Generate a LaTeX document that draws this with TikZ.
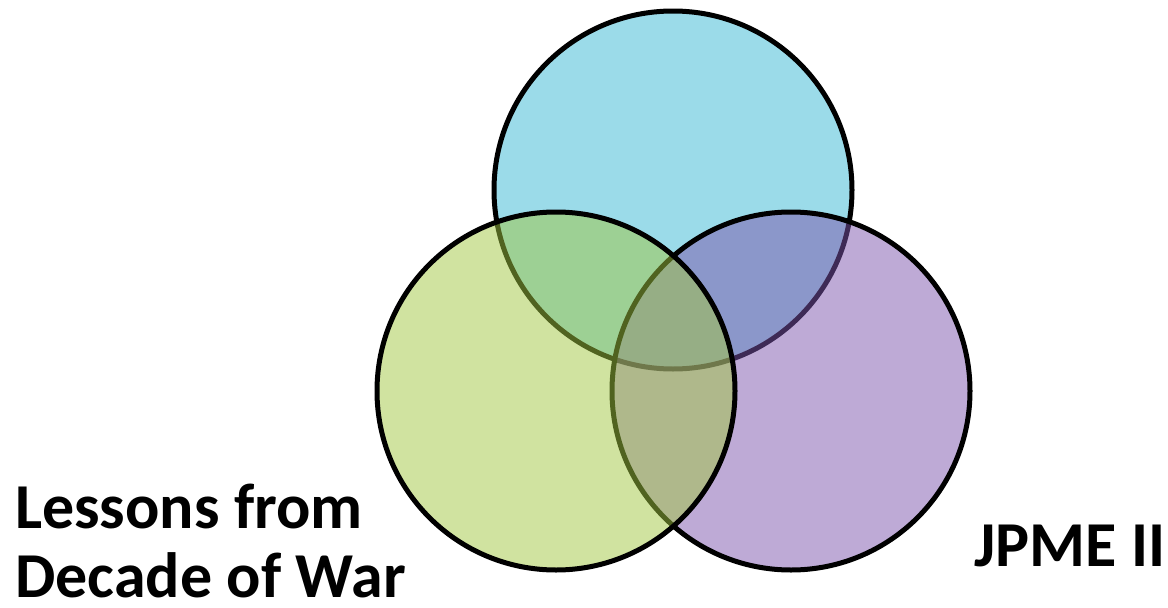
\documentclass[tikz,border=0pt]{standalone}
\usepackage{fontspec}
\setmainfont{Carlito}
\definecolor{cblue}{RGB}{55,183,211}
\definecolor{cgreen}{RGB}{161,199,65}
\definecolor{cpurple}{RGB}{125,85,173}
\begin{document}
\begin{tikzpicture}[x=1pt,y=-1pt,
  venn/.style={draw=black,line width=5pt,fill opacity=0.5,draw opacity=1},
  lbl/.style={font=\fontsize{64}{70}\selectfont\bfseries,inner sep=0pt,align=left,text depth=0pt}]
\useasboundingbox (0,0) rectangle (1168,608);
\draw[venn,fill=cblue] (673,190) circle[radius=179];
\draw[venn,fill=cpurple] (791,391) circle[radius=179];
\draw[venn,fill=cgreen] (556,391) circle[radius=179];
\node[lbl,anchor=base west] (lessons) at (15,528) {Lessons from};
\node[lbl,anchor=base west] (decade) at (15,597) {Decade of War};
\node[lbl,anchor=base west] (jpme) at (974,566) {JPME II};
\end{tikzpicture}
\end{document}
